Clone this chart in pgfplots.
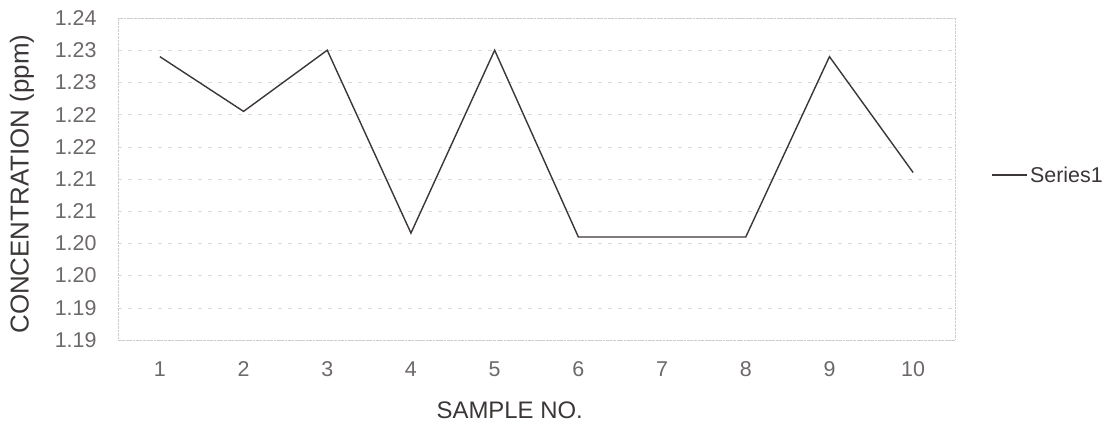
\documentclass[border=0pt]{standalone}
\usepackage{fontspec}
\setmainfont{Liberation Sans}
\usepackage{pgfplots}
\pgfplotsset{compat=1.18}
\definecolor{ink}{RGB}{60,55,55}
\definecolor{txt}{RGB}{110,105,105}
\begin{document}
\begin{tikzpicture}[x=1bp,y=1bp]
\useasboundingbox[fill=white] (-118bp,-90bp) rectangle (992bp,340bp);
\begin{axis}[
  at={(0,0)}, anchor=south west,
  scale only axis, width=837bp, height=322bp,
  xmin=0.5, xmax=10.5, ymin=1.19, ymax=1.24,
  xtick={1,2,3,4,5,6,7,8,9,10},
  xticklabels={1,2,3,4,5,6,7,8,9,10},
  ytick={1.19,1.195,1.20,1.205,1.21,1.215,1.22,1.225,1.23,1.235,1.24},
  yticklabels={1.19,1.19,1.20,1.20,1.21,1.21,1.22,1.22,1.23,1.23,1.24},
  major tick length=0pt,
  tick label style={font=\fontsize{21.5}{24}\selectfont, text=txt},
  xticklabel style={yshift=-18bp},
  yticklabel style={xshift=-18bp},
  ymajorgrids,
  grid style={gray!30, dash pattern=on 4bp off 6bp},
  axis line style={gray!40, densely dotted},
  xlabel={SAMPLE NO.},
  ylabel={CONCENTRATION (ppm)},
  xlabel style={font=\fontsize{24}{28}\selectfont, text=ink, at={(axis description cs:0.468,-0.217)}, anchor=center},
  ylabel style={font=\fontsize{26}{30}\selectfont, text=ink, at={(axis description cs:-0.1147,0.484)}, anchor=center},
  legend style={at={(axis description cs:1.040,0.512)}, anchor=west, draw=none, fill=none,
    font=\fontsize{21.5}{24}\selectfont, text=ink},
  legend cell align=left,
  legend image code/.code={\draw[#1] (0bp,0bp) -- (35bp,0bp);},
]
\addplot[ink, line width=1.4bp, mark=none] coordinates {
  (1,1.234) (2,1.2255) (3,1.235) (4,1.2066) (5,1.235)
  (6,1.206) (7,1.206) (8,1.206) (9,1.234) (10,1.216)
};
\addlegendentry{Series1}
\end{axis}
\end{tikzpicture}
\end{document}
